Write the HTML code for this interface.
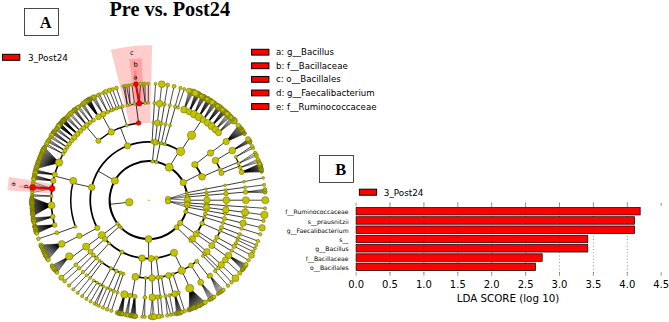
<!DOCTYPE html><html><head><meta charset="utf-8"><title>Pre vs. Post24</title><style>html,body{margin:0;padding:0;background:#fff}svg{display:block}</style></head><body><svg width="669" height="322" viewBox="0 0 669 322">
<rect width="669" height="322" fill="#fff"/>
<g fill="#ff0000">
<path d="M150.35 123.02L152.12 45.24A155 155 0 0 0 110.84 49.87L129.79 125.33A77.2 77.2 0 0 1 150.35 123.02Z" fill-opacity="0.2"/>
<path d="M143.86 103.32L141.65 58.17A142.2 142.2 0 0 0 129.3 59.32L135.44 104.1A97 97 0 0 1 143.86 103.32Z" fill-opacity="0.2"/>
<path d="M137.65 84.32L136.32 70.28A130.5 130.5 0 0 0 134.05 70.51L135.63 84.53A116.4 116.4 0 0 1 137.65 84.32Z" fill-opacity="0.2"/>
<path d="M52.93 184.19L9.04 176.85A141.5 141.5 0 0 0 7.44 190.33L51.84 193.43A97 97 0 0 1 52.93 184.19Z" fill-opacity="0.2"/>
<path d="M32.99 186.62L19.49 185.03A130 130 0 0 0 19.2 187.74L32.74 189.04A116.4 116.4 0 0 1 32.99 186.62Z" fill-opacity="0.2"/>
</g>
<g stroke="#000" fill="none" stroke-linecap="butt">
<path stroke-width="0.42" d="M226.17 141.54L244.54 133.77M226.17 141.54L244.26 133.36M226.17 141.54L243.98 132.95M226.17 141.54L243.69 132.55M226.17 141.54L243.4 132.15M226.17 141.54L243.11 131.75M226.17 141.54L242.82 131.35M226.17 141.54L242.53 130.95M226.17 141.54L242.24 130.55M226.17 141.54L241.94 130.15M226.17 141.54L241.64 129.76M226.17 141.54L241.34 129.37M226.17 141.54L241.04 128.97M226.17 141.54L240.74 128.58M226.17 141.54L240.44 128.19M226.17 141.54L240.13 127.8M226.17 141.54L239.82 127.42M226.17 141.54L239.51 127.03M226.17 141.54L239.2 126.65M226.17 141.54L238.89 126.26M226.17 141.54L238.57 125.88M226.17 141.54L238.26 125.5M232.22 150.55L250.07 142.56M232.22 150.55L249.82 142.11M232.22 150.55L249.56 141.67M232.22 150.55L249.31 141.23M232.22 150.55L249.05 140.79M232.22 150.55L248.79 140.36M232.22 150.55L248.53 139.92M232.22 150.55L248.26 139.49M232.22 150.55L248 139.05M241.7 172.09L261.83 171.97M241.7 172.09L261.73 171.57M241.7 172.09L261.63 171.18M241.7 172.09L261.53 170.78M241.7 172.09L261.43 170.39M241.7 172.09L261.32 170M241.7 172.09L261.22 169.6M241.7 172.09L261.11 169.21M241.7 172.09L261 168.82M241.7 172.09L260.89 168.42M241.7 172.09L260.78 168.03M241.7 172.09L260.67 167.64M241.7 172.09L260.55 167.25M241.7 172.09L260.44 166.86M241.7 172.09L260.32 166.47M241.7 172.09L260.2 166.08M241.7 172.09L260.08 165.69M241.7 172.09L259.96 165.3M241.7 172.09L259.84 164.91M241.7 172.09L259.71 164.53M241.7 172.09L259.59 164.14M241.7 172.09L259.46 163.75M184.08 109.65L193.45 92.46M184.08 109.65L192.69 92.15M184.08 109.65L191.94 91.85M184.08 109.65L191.18 91.55M184.08 109.65L190.42 91.25M184.08 109.65L189.66 90.96M184.08 109.65L188.9 90.68M189.24 111.85L199.57 95.22M189.24 111.85L199.17 95.03M189.24 111.85L198.77 94.84M189.24 111.85L198.37 94.65M189.24 111.85L197.97 94.46M189.24 111.85L197.57 94.27M189.24 111.85L197.16 94.08M189.24 111.85L196.76 93.9M189.24 111.85L196.35 93.72M189.24 111.85L195.95 93.54M189.24 111.85L195.54 93.36M189.24 111.85L195.13 93.18M194.11 114.25L205.36 98.23M194.11 114.25L204.82 97.94M194.11 114.25L204.28 97.64M194.11 114.25L203.75 97.35M194.11 114.25L203.21 97.06M194.11 114.25L202.67 96.78M194.11 114.25L202.12 96.5M194.11 114.25L201.58 96.22M194.11 114.25L201.04 95.94M198.83 116.93L210.96 101.56M198.83 116.93L210.61 101.34M198.83 116.93L210.27 101.13M198.83 116.93L209.92 100.91M198.83 116.93L209.58 100.7M198.83 116.93L209.23 100.48M198.83 116.93L208.88 100.27M198.83 116.93L208.53 100.06M198.83 116.93L208.18 99.86M198.83 116.93L207.83 99.65M198.83 116.93L207.48 99.44M198.83 116.93L207.13 99.24M198.83 116.93L206.77 99.03M203.26 119.77L216.2 105.07M203.26 119.77L215.7 104.72M203.26 119.77L215.2 104.37M203.26 119.77L214.7 104.02M203.26 119.77L214.2 103.68M203.26 119.77L213.69 103.34M203.26 119.77L213.18 103M203.26 119.77L212.67 102.66M203.26 119.77L212.16 102.33M207.53 122.84L221.25 108.87M207.53 122.84L220.93 108.62M207.53 122.84L220.61 108.36M207.53 122.84L220.29 108.11M207.53 122.84L219.97 107.86M207.53 122.84L219.64 107.62M207.53 122.84L219.32 107.37M207.53 122.84L218.99 107.12M207.53 122.84L218.67 106.88M207.53 122.84L218.34 106.63M207.53 122.84L218.02 106.39M207.53 122.84L217.69 106.15M207.53 122.84L217.36 105.91M211.63 126.14L226.08 112.93M211.63 126.14L225.78 112.66M211.63 126.14L225.47 112.39M211.63 126.14L225.16 112.13M211.63 126.14L224.85 111.86M211.63 126.14L224.55 111.59M211.63 126.14L224.24 111.33M211.63 126.14L223.92 111.07M211.63 126.14L223.61 110.8M211.63 126.14L223.3 110.54M211.63 126.14L222.99 110.28M211.63 126.14L222.67 110.02M211.63 126.14L222.36 109.76M215.42 129.54L230.54 117.11M215.42 129.54L229.96 116.54M215.42 129.54L229.37 115.97M215.42 129.54L228.78 115.41M215.42 129.54L228.19 114.85M215.42 129.54L227.59 114.3M215.42 129.54L226.99 113.75M218.56 132.64L234.23 120.91M218.56 132.64L233.67 120.31M218.56 132.64L233.11 119.72M218.56 132.64L232.55 119.13M218.56 132.64L231.98 118.55M218.56 132.64L231.41 117.97M218.56 132.64L230.83 117.39M98.51 116.84L90.07 99.24M98.51 116.84L89.86 99.36M98.51 116.84L89.64 99.49M98.51 116.84L89.42 99.62M98.51 116.84L89.2 99.75M98.51 116.84L88.99 99.88M98.51 116.84L88.77 100M98.51 116.84L88.55 100.13M98.51 116.84L88.34 100.26M98.51 116.84L88.12 100.39M98.51 116.84L87.91 100.52M98.51 116.84L87.69 100.66M98.51 116.84L87.48 100.79M98.51 116.84L87.26 100.92M98.51 116.84L87.05 101.05M98.51 116.84L86.83 101.19M98.51 116.84L86.62 101.32M98.51 116.84L86.41 101.45M98.51 116.84L86.19 101.59M98.51 116.84L85.98 101.72M98.51 116.84L85.77 101.86M98.51 116.84L85.55 102M86.74 125.16L75.79 109M86.74 125.16L75.38 109.32M86.74 125.16L74.98 109.65M86.74 125.16L74.57 109.99M86.74 125.16L74.17 110.32M86.74 125.16L73.77 110.65M86.74 125.16L73.36 110.99M86.74 125.16L72.96 111.33M77.36 134L64.51 119.28M77.36 134L64.35 119.44M77.36 134L64.2 119.61M77.36 134L64.04 119.77M77.36 134L63.89 119.93M77.36 134L63.73 120.1M77.36 134L63.58 120.26M77.36 134L63.42 120.43M77.36 134L63.27 120.59M77.36 134L63.11 120.76M77.36 134L62.96 120.93M77.36 134L62.8 121.09M77.36 134L62.65 121.26M77.36 134L62.5 121.43M77.36 134L62.35 121.59M77.36 134L62.19 121.76M77.36 134L62.04 121.93M77.36 134L61.89 122.1M77.36 134L61.74 122.26M74.32 137.43L60.79 123.33M74.32 137.43L60.64 123.5M74.32 137.43L60.5 123.67M74.32 137.43L60.35 123.84M74.32 137.43L60.2 124.01M74.32 137.43L60.05 124.19M74.32 137.43L59.9 124.36M74.32 137.43L59.76 124.53M74.32 137.43L59.61 124.7M74.32 137.43L59.47 124.88M74.32 137.43L59.32 125.05M74.32 137.43L59.17 125.22M74.32 137.43L59.03 125.39M74.32 137.43L58.88 125.57M74.32 137.43L58.74 125.74M74.32 137.43L58.59 125.92M74.32 137.43L58.45 126.09M74.32 137.43L58.31 126.27M74.32 137.43L58.16 126.44M69.23 144L54.49 131.19M69.23 144L54.16 131.64M69.23 144L53.84 132.09M69.23 144L53.52 132.54M69.23 144L53.2 132.99M69.23 144L52.88 133.44M69.23 144L52.56 133.9M69.23 144L52.25 134.35M58.95 162.51L44.62 147.22M58.95 162.51L44.36 147.74M58.95 162.51L44.1 148.26M58.95 162.51L43.84 148.78M58.95 162.51L43.59 149.3M58.95 162.51L43.33 149.82M58.95 162.51L43.08 150.35M58.95 162.51L42.84 150.87M58.95 162.51L42.59 151.4M58.95 162.51L42.35 151.93M58.95 162.51L42.11 152.45M58.95 162.51L41.88 152.99M58.95 162.51L41.64 153.52M58.95 162.51L41.41 154.05M58.95 162.51L41.19 154.58M58.95 162.51L40.96 155.12M58.95 162.51L40.74 155.65M58.95 162.51L40.52 156.19M58.95 162.51L40.3 156.73M58.95 162.51L40.08 157.27M58.95 162.51L39.87 157.81M58.95 162.51L39.66 158.35M58.95 162.51L39.46 158.89M58.95 162.51L39.25 159.44M58.95 162.51L39.05 159.98M58.95 162.51L38.85 160.53M58.95 162.51L38.66 161.07M58.95 162.51L38.46 161.62M58.95 162.51L38.27 162.17M58.95 162.51L38.08 162.72M58.95 162.51L37.9 163.27M58.95 162.51L37.72 163.82M58.95 162.51L37.54 164.37M58.95 162.51L37.36 164.92M58.95 162.51L37.19 165.48M58.95 162.51L37.01 166.03M58.95 162.51L36.85 166.59M58.95 162.51L36.68 167.14M58.95 162.51L36.52 167.7M58.95 162.51L36.36 168.26M58.95 162.51L36.2 168.82M54.8 174.54L35.93 169.8M54.8 174.54L35.81 170.24M54.8 174.54L35.69 170.68M54.8 174.54L35.58 171.13M54.8 174.54L35.47 171.57M54.8 174.54L35.35 172.02M54.8 174.54L35.24 172.46M54.8 174.54L35.14 172.91M54.8 174.54L35.03 173.35M53.3 180.81L34.62 175.14M53.3 180.81L34.5 175.69M53.3 180.81L34.39 176.24M53.3 180.81L34.27 176.78M53.3 180.81L34.16 177.33M53.3 180.81L34.05 177.88M53.3 180.81L33.95 178.43M53.3 180.81L33.84 178.98M53.3 180.81L33.74 179.53M52.05 188.52L33.27 182.35M52.05 188.52L32.95 184.56M52.05 188.52L32.6 187.39M52.05 188.52L32.33 190.23M52.05 188.52L32.14 192.67M51.48 205.29L31.93 197.55M51.48 205.29L31.92 197.98M51.48 205.29L31.91 198.41M51.48 205.29L31.91 198.85M51.48 205.29L31.9 199.28M51.48 205.29L31.9 199.71M51.48 205.29L31.9 200.14M51.48 205.29L31.9 200.57M51.48 205.29L31.9 201M51.48 205.29L31.91 201.43M51.48 205.29L31.91 201.86M51.48 205.29L31.92 202.29M51.48 205.29L31.93 202.72M51.48 205.29L31.94 203.16M51.48 205.29L31.95 203.59M51.48 205.29L31.96 204.02M51.48 205.29L31.98 204.45M51.48 205.29L31.99 204.88M51.48 205.29L32.01 205.31M51.48 205.29L32.03 205.74M51.48 205.29L32.05 206.17M51.48 205.29L32.08 206.6M51.48 205.29L32.1 207.03M51.48 205.29L32.13 207.46M51.48 205.29L32.15 207.89M51.48 205.29L32.18 208.32M51.48 205.29L32.21 208.75M51.48 205.29L32.25 209.18M51.48 205.29L32.28 209.61M51.48 205.29L32.32 210.04M51.48 205.29L32.35 210.47M51.48 205.29L32.39 210.9M51.48 205.29L32.43 211.33M51.48 205.29L32.47 211.76M51.48 205.29L32.52 212.19M51.48 205.29L32.56 212.62M51.48 205.29L32.61 213.04M51.48 205.29L32.66 213.47M51.48 205.29L32.71 213.9M51.48 205.29L32.76 214.33M51.48 205.29L32.81 214.76M51.48 205.29L32.87 215.18M51.48 205.29L32.92 215.61M51.48 205.29L32.98 216.04M52.77 216.75L33.21 217.65M52.77 216.75L33.3 218.21M52.77 216.75L33.39 218.78M52.77 216.75L33.48 219.34M52.77 216.75L33.58 219.9M52.77 216.75L33.67 220.46M52.77 216.75L33.77 221.03M52.77 216.75L33.88 221.59M52.77 216.75L33.98 222.15M52.77 216.75L34.09 222.71M52.77 216.75L34.2 223.27M54.58 225.04L34.71 225.66M54.58 225.04L34.81 226.1M54.58 225.04L34.91 226.54M54.58 225.04L35.01 226.98M54.58 225.04L35.12 227.42M54.58 225.04L35.23 227.86M54.58 225.04L35.33 228.3M54.58 225.04L35.44 228.74M54.58 225.04L35.56 229.18M54.58 225.04L35.67 229.62M54.58 225.04L35.78 230.05M54.58 225.04L35.9 230.49M54.58 225.04L36.02 230.93M54.58 225.04L36.14 231.36M54.58 225.04L36.26 231.8M54.58 225.04L36.38 232.24M54.58 225.04L36.51 232.67M54.58 225.04L36.64 233.11M54.58 225.04L36.76 233.54M61.72 243.9L40.78 244.86M61.72 243.9L41.02 245.43M61.72 243.9L41.26 246M61.72 243.9L41.51 246.57M61.72 243.9L41.75 247.13M61.72 243.9L42 247.7M61.72 243.9L42.26 248.26M61.72 243.9L42.51 248.83M61.72 243.9L42.77 249.39M61.72 243.9L43.04 249.95M61.72 243.9L43.3 250.51M61.72 243.9L43.57 251.07M61.72 243.9L43.84 251.62M61.72 243.9L44.11 252.18M61.72 243.9L44.39 252.73M61.72 243.9L44.67 253.28M61.72 243.9L44.95 253.83M61.72 243.9L45.24 254.38M61.72 243.9L45.53 254.93M61.72 243.9L45.82 255.47M61.72 243.9L46.11 256.02M61.72 243.9L46.41 256.56M61.72 243.9L46.71 257.1M61.72 243.9L47.01 257.64M61.72 243.9L47.32 258.18M61.72 243.9L47.63 258.71M61.72 243.9L47.94 259.25M61.72 243.9L48.26 259.78M69.23 256.4L51.85 265.46M69.23 256.4L52.24 266.03M69.23 256.4L52.63 266.6M69.23 256.4L53.02 267.16M69.23 256.4L53.42 267.73M69.23 256.4L53.82 268.29M69.23 256.4L54.22 268.85M69.23 256.4L54.63 269.4M69.23 256.4L55.04 269.96M69.23 256.4L55.46 270.51M69.23 256.4L55.87 271.06M69.23 256.4L56.29 271.6M69.23 256.4L56.72 272.15M69.23 256.4L57.14 272.69M124.41 294.39L117.61 312.71M124.41 294.39L118 312.82M124.41 294.39L118.4 312.92M124.41 294.39L118.79 313.03M124.41 294.39L119.18 313.13M124.41 294.39L119.58 313.23M124.41 294.39L119.97 313.33M124.41 294.39L120.37 313.43M124.41 294.39L120.76 313.53M124.41 294.39L121.16 313.63M124.41 294.39L121.56 313.72M124.41 294.39L121.95 313.82M124.41 294.39L122.35 313.91M124.41 294.39L122.75 314M134.73 296.46L130.34 315.46M134.73 296.46L130.78 315.53M134.73 296.46L131.21 315.6M134.73 296.46L131.65 315.66M134.73 296.46L132.08 315.72M134.73 296.46L132.51 315.79M134.73 296.46L132.95 315.85M134.73 296.46L133.38 315.9M134.73 296.46L133.82 315.96M134.73 296.46L134.25 316.01M134.73 296.46L134.69 316.07M134.73 296.46L135.12 316.12M134.73 296.46L135.56 316.17M134.73 296.46L136 316.22M174.75 293.87L176.44 313.53M174.75 293.87L176.99 313.39M174.75 293.87L177.54 313.25M174.75 293.87L178.1 313.11M174.75 293.87L178.65 312.97M174.75 293.87L179.2 312.82M174.75 293.87L179.75 312.67M174.75 293.87L180.3 312.51M174.75 293.87L180.85 312.36M174.75 293.87L181.39 312.2M174.75 293.87L181.94 312.04M189.7 288.34L189.09 309.65M189.7 288.34L189.58 309.47M189.7 288.34L190.06 309.29M189.7 288.34L190.55 309.1M189.7 288.34L191.04 308.91M189.7 288.34L191.52 308.72M189.7 288.34L192.01 308.53M189.7 288.34L192.49 308.33M189.7 288.34L192.97 308.14M189.7 288.34L193.45 307.94M189.7 288.34L193.93 307.73M189.7 288.34L194.41 307.53M189.7 288.34L194.89 307.33M189.7 288.34L195.37 307.12M189.7 288.34L195.85 306.91M189.7 288.34L196.32 306.7M189.7 288.34L196.8 306.48M189.7 288.34L197.27 306.27M189.7 288.34L197.75 306.05M189.7 288.34L198.22 305.83M189.7 288.34L198.69 305.6M189.7 288.34L199.16 305.38M189.7 288.34L199.63 305.15M189.7 288.34L200.1 304.92M189.7 288.34L200.56 304.69M189.7 288.34L201.03 304.46M189.7 288.34L201.5 304.22M189.7 288.34L201.96 303.99M189.7 288.34L202.42 303.75M189.7 288.34L202.88 303.51M189.7 288.34L203.35 303.26M189.7 288.34L203.8 303.02M189.7 288.34L204.26 302.77M189.7 288.34L204.72 302.52M189.7 288.34L205.18 302.27M200.71 282.31L209.05 300.02M200.71 282.31L209.8 299.57M200.71 282.31L210.54 299.11M200.71 282.31L211.28 298.64M200.71 282.31L212.01 298.17M200.71 282.31L212.74 297.69M200.71 282.31L213.47 297.21M200.71 282.31L214.2 296.72M210.06 275.56L217.69 294.25M210.06 275.56L218.53 293.63M210.06 275.56L219.37 293M210.06 275.56L220.2 292.36M210.06 275.56L221.02 291.71M210.06 275.56L221.84 291.06M210.06 275.56L222.65 290.4M210.06 275.56L223.46 289.73M228.55 255.56L242.29 269.78M228.55 255.56L242.64 269.3M228.55 255.56L242.99 268.82M228.55 255.56L243.34 268.34M228.55 255.56L243.68 267.86M228.55 255.56L244.02 267.38M228.55 255.56L244.36 266.89M228.55 255.56L244.7 266.41M228.55 255.56L245.04 265.92M228.55 255.56L245.37 265.43M228.55 255.56L245.7 264.93M228.55 255.56L246.03 264.44"/>
<path stroke-width="0.55" d="M238.64 163.45L256.49 155.73M238.64 163.45L255.78 154.04M238.64 163.45L255.04 152.36M240.22 167.58L258.94 162.21M240.22 167.58L258.4 160.67M240.22 167.58L257.84 159.14M103.24 114.17L95.08 96.5M103.24 114.17L93.99 97.06M103.24 114.17L92.92 97.64M103.24 114.17L91.84 98.23M93.38 120.15L83.68 103.22M93.38 120.15L82.78 103.83M93.38 120.15L81.89 104.45M93.38 120.15L81 105.07M90.07 122.53L79.43 106.21M90.07 122.53L78.37 107M90.07 122.53L77.32 107.8M83.28 128.16L71.27 112.8M83.28 128.16L70.21 113.75M83.28 128.16L69.16 114.71M80.32 130.96L67.9 115.9M80.32 130.96L67.07 116.7M80.32 130.96L66.25 117.51M80.32 130.96L65.44 118.33M71.65 140.73L57.21 127.63M71.65 140.73L56.58 128.43M71.65 140.73L55.95 129.24M71.65 140.73L55.34 130.05M67.04 147.23L51.45 135.53M67.04 147.23L50.73 136.64M67.04 147.23L50.01 137.76M64.98 150.55L49.1 139.22M64.98 150.55L48.53 140.15M64.98 150.55L47.98 141.09M64.98 150.55L47.43 142.03M130.04 295.66L125.13 314.52M130.04 295.66L126.2 314.73M130.04 295.66L127.27 314.93M130.04 295.66L128.34 315.13M152.33 297.38L150.23 316.89M152.33 297.38L152.27 316.84M152.33 297.38L154.3 316.76M168 198.84L186.79 192.78M168 198.84L187.16 195.06M168 198.84L187.36 196.94M168 198.84L187.5 200.2M245.51 192.06L264.99 191.65M245.51 192.06L264.78 189.22M245.51 192.06L265.07 192.87M245.51 192.06L264.89 190.43M168.01 201.39L187.41 202.91M168.01 201.39L187.19 205.08M168.01 201.39L186.89 207.09"/>
<path stroke-width="0.7" d="M235.71 156.96L252.95 147.95M235.71 156.96L252.02 146.13M159.61 103.58L161.81 84.25M164.48 104.26L167.66 85.07M169.81 105.29L174.06 86.31M175.08 106.62L180.38 87.91M178.01 107.5L184.27 89.09M154.37 103.12L155.52 83.71M127.39 105.29L123.34 86.27M127.39 105.29L124.93 85.92M130.21 104.7L126.53 85.61M130.21 104.7L128.94 85.17M134.56 103.97L131.96 84.69M139.28 103.4L135.9 84.19M139.28 103.4L140.46 83.78M145.21 103.01L144.93 83.56M145.21 103.01L142.7 83.65M148.26 102.95L148.4 83.5M122.61 106.49L116.43 88.02M119.19 107.5L112.54 89.21M116.62 108.36L109.45 90.26M113.43 109.53L105.64 91.7M111.23 110.42L103 92.78M107.65 111.99L99.65 94.26M107.65 111.99L97.81 95.13M63.14 153.8L46.48 143.71M63.14 153.8L45.61 145.32M51.44 196.13L32.03 194.7M51.44 196.13L31.97 196.13M56.93 232.66L38.46 238.77M75.88 264.77L61.33 277.68M79.12 268.24L64.65 281.27M83.02 272.01L69.01 285.55M86.61 275.13L73.28 289.33M90.07 277.87L77.72 292.91M93.8 280.54L82.17 296.14M97.07 282.67L86.41 298.95M100.27 284.59L90.6 301.47M103.54 286.38L94.53 303.62M103.54 286.38L96.35 304.55M106.89 288.05L98.91 305.79M110.29 289.59L103 307.62M113.75 290.99L107.16 309.29M117.58 292.37L111.38 310.8M144.87 297.38L142.29 316.73M144.87 297.38L144.73 316.84M157.58 297.03L158.97 316.44M160.62 296.7L162.42 316.08M165.49 295.97L167.46 315.37M165.49 295.97L170.87 314.76M169.48 295.18L173.46 314.22M178.65 292.69L184.66 311.19M221.21 264.89L235.46 278.14M218.32 268L231.55 282.29M215.17 271.09L228.04 285.69M225.34 259.94L239.8 273.01M243.08 223.23L261.98 227.84M241.6 228.63L260.2 234.32M239.69 234.26L257.91 241.07M238.25 237.89L256.34 245.05M237.3 240.07L254.88 248.41M235.86 243.14L253.31 251.72M234.23 246.31L251.45 255.35M231.78 250.58L248.63 260.3M244.06 181.64L263.16 177.93M245 187.34L264.27 184.77M245.85 200.2L265.3 200.2M245.61 206.98L265.02 208.34M245.08 212.39L264.38 214.83M244.31 217.42L263.46 220.87"/>
<path stroke-width="0.78" d="M129.26 202.23L109.91 204.27M183.26 182.54L200.59 173.71M194.83 164.6L210.24 152.73M210.49 153.05L225.96 141.27M202.07 176.84L219.89 169.05M215.5 160.48L232.22 150.55M220.22 169.8L238.12 162.2M221.47 172.95L239.69 166.14M169.21 167.21L179.52 150.72M180.64 151.43L191.31 135.17M191.54 135.32L202.28 119.1M156.36 162.08L160.23 143.02M155.21 142.23L157.41 122.9M157.41 122.9L159.61 103.58M158.13 142.63L161.31 123.44M161.31 123.44L164.48 104.26M161.33 143.26L165.57 124.27M165.57 124.27L169.81 105.29M164.78 144.14L170.18 125.45M170.04 125.41L175.41 106.72M152.46 161.49L154.4 142.14M152.06 141.95L153.21 122.54M153.21 122.54L154.37 103.12M114.91 180.75L98.07 171.03M127.5 145.8L120.47 127.67M138.58 123.05L136.07 103.76M126.76 125.53L121.31 106.86M111.24 131.96L101.9 114.9M98.38 140.78L85.83 125.92M91.68 187.37L72.7 183.1M73.24 180.85L54.41 176.01M75.45 226.68L57.16 233.3M97.27 227.95L80.16 237.2M79.4 235.76L62.1 244.65M117.53 223.61L102 235.32M101.88 235.15L86.3 246.8M86.14 246.59L70.53 258.18M119.69 226.23L105.24 239.24M104.97 238.94L90.42 251.85M90.42 251.85L75.88 264.77M148.6 239.1L148.6 258.55M109.18 243.22L96.04 257.56M93.4 255.02L79.59 268.73M96.54 258.02L83.53 272.47M121.84 252.05L112.92 269.33M99.64 260.66L87.4 275.78M102 262.5L90.34 278.07M111 268.31L101.6 285.34M116.34 270.99L108.27 288.69M120.59 272.78L113.59 290.93M123.4 273.81L117.1 292.21M141.99 258.17L139.79 277.5M135.36 276.86L132.05 296.03M145.61 277.94L144.87 297.38M151.15 258.49L151.99 277.93M151.99 277.93L152.84 297.36M156.22 258.05L158.75 277.33M158.08 277.42L160.45 296.73M161.44 276.93L164.65 296.12M174 252.73L182.46 270.24M168.47 275.42L173.44 294.22M172.9 274.11L178.97 292.58M181.73 270.6L190.01 288.19M190.97 265.45L201.57 281.76M196.82 261.26L208.87 276.52M176.58 227.22L190.57 240.73M192.23 238.94L206.78 251.85M206.87 251.75L221.44 264.64M190.43 240.88L204.38 254.44M204.56 254.24L218.56 267.76M202.84 255.98L216.4 269.92M180.19 222.9L195.99 234.25M196.22 233.92L212.1 245.16M211.78 245.6L227.58 256.95M185.74 211.77L204.31 217.55M205.29 214.02L224.19 218.63M224.19 218.63L243.08 223.23M204.4 217.26L223 222.95M223 222.95L241.6 228.63M202.15 223.37L220 231.1M221.47 227.45L239.69 234.26M220.11 230.85L237.99 238.51M216.97 237.32L234.06 246.6M197.81 231.55L214.22 242M214.94 240.85L231.52 251.01M186.79 192.78L205.88 189.07M205.88 189.07L224.97 185.36M224.97 185.36L244.06 181.64M187.16 195.06L206.44 192.48M206.44 192.48L225.72 189.91M225.72 189.91L245 187.34M187.36 196.94L206.75 195.32M206.75 195.32L226.13 193.69M226.13 193.69L245.51 192.06M187.5 200.2L206.95 200.2M206.95 200.2L226.4 200.2M226.4 200.2L245.85 200.2M187.41 202.91L206.81 204.27M206.81 204.27L226.21 205.63M226.21 205.63L245.61 206.98M187.19 205.08L206.49 207.51M206.49 207.51L225.79 209.95M225.79 209.95L245.08 212.39M186.89 207.09L206.03 210.53M206.03 210.53L225.17 213.98M225.17 213.98L244.31 217.42"/>
<path stroke-width="1.15" d="M226.17 141.54A97.25 97.25 0 0 0 225.96 141.27M240.22 167.58A97.25 97.25 0 0 0 235.71 156.96M241.7 172.09A97.25 97.25 0 0 0 239.69 166.14M218.56 132.64A97.25 97.25 0 0 0 184.08 109.65M178.01 107.5A97.25 97.25 0 0 0 175.08 106.62M148.26 102.95A97.25 97.25 0 0 0 127.39 105.29M122.61 106.49A97.25 97.25 0 0 0 121.31 106.86M119.19 107.5A97.25 97.25 0 0 0 98.51 116.84M93.38 120.15A97.25 97.25 0 0 0 63.14 153.8M56.93 232.66A97.25 97.25 0 0 0 57.16 233.3M61.72 243.9A97.25 97.25 0 0 0 62.1 244.65M69.23 256.4A97.25 97.25 0 0 0 70.53 258.18M79.12 268.24A97.25 97.25 0 0 0 79.59 268.73M83.02 272.01A97.25 97.25 0 0 0 83.53 272.47M86.61 275.13A97.25 97.25 0 0 0 87.4 275.78M90.07 277.87A97.25 97.25 0 0 0 90.34 278.07M93.8 280.54A97.25 97.25 0 0 0 103.54 286.38M106.89 288.05A97.25 97.25 0 0 0 108.27 288.69M110.29 289.59A97.25 97.25 0 0 0 113.75 290.99M117.1 292.21A97.25 97.25 0 0 0 117.58 292.37M124.41 294.39A97.25 97.25 0 0 0 134.73 296.46M152.33 297.38A97.25 97.25 0 0 0 152.84 297.36M157.58 297.03A97.25 97.25 0 0 0 160.62 296.7M164.65 296.12A97.25 97.25 0 0 0 165.49 295.97M169.48 295.18A97.25 97.25 0 0 0 174.75 293.87M178.65 292.69A97.25 97.25 0 0 0 178.97 292.58M189.7 288.34A97.25 97.25 0 0 0 190.01 288.19M200.71 282.31A97.25 97.25 0 0 0 201.57 281.76M208.47 276.83A97.25 97.25 0 0 0 210.06 275.56M221.21 264.89A97.25 97.25 0 0 0 221.44 264.64M218.32 268A97.25 97.25 0 0 0 218.56 267.76M215.17 271.09A97.25 97.25 0 0 0 216.4 269.92M225.34 259.94A97.25 97.25 0 0 0 228.55 255.56M237.3 240.07A97.25 97.25 0 0 0 238.25 237.89M234.06 246.6A97.25 97.25 0 0 0 235.86 243.14M231.52 251.01A97.25 97.25 0 0 0 231.78 250.58"/>
<path stroke-width="1.5" d="M210.49 153.05A77.8 77.8 0 0 0 210.24 152.73M221.47 172.95A77.8 77.8 0 0 0 215.5 160.48M191.54 135.32A77.8 77.8 0 0 0 191.31 135.17M170.18 125.45A77.8 77.8 0 0 0 170.04 125.41M138.58 123.05A77.8 77.8 0 0 0 98.38 140.78M73.24 180.85A77.8 77.8 0 0 0 75.45 226.68M79.4 235.76A77.8 77.8 0 0 0 80.16 237.2M86.14 246.59A77.8 77.8 0 0 0 86.3 246.8M93.4 255.02A77.8 77.8 0 0 0 96.54 258.02M99.64 260.66A77.8 77.8 0 0 0 123.4 273.81M135.36 276.86A77.8 77.8 0 0 0 145.61 277.94M158.08 277.42A77.8 77.8 0 0 0 161.44 276.93M168.47 275.42A77.8 77.8 0 0 0 196.82 261.26M206.78 251.85A77.8 77.8 0 0 0 206.87 251.75M202.84 255.98A77.8 77.8 0 0 0 204.56 254.24M211.78 245.6A77.8 77.8 0 0 0 212.1 245.16M216.97 237.32A77.8 77.8 0 0 0 221.47 227.45M214.22 242A77.8 77.8 0 0 0 214.94 240.85M145.61 277.94A77.8 77.8 0 0 0 168.47 275.42M66.13 148.67A97.25 97.25 0 0 0 58.95 162.51"/>
<path stroke-width="1.6" d="M58.95 162.51A97.25 97.25 0 0 0 54.58 225.04"/>
<path stroke-width="1.75" d="M202.07 176.84A58.35 58.35 0 0 0 194.83 164.6M180.64 151.43A58.35 58.35 0 0 0 179.52 150.72M164.78 144.14A58.35 58.35 0 0 0 155.21 142.23M154.4 142.14A58.35 58.35 0 0 0 152.06 141.95M127.5 145.8A58.35 58.35 0 0 0 97.27 227.95M101.88 235.15A58.35 58.35 0 0 0 102 235.32M104.97 238.94A58.35 58.35 0 0 0 105.24 239.24M109.18 243.22A58.35 58.35 0 0 0 174 252.73M190.43 240.88A58.35 58.35 0 0 0 192.23 238.94M195.99 234.25A58.35 58.35 0 0 0 196.22 233.92M197.81 231.55A58.35 58.35 0 0 0 205.29 214.02M180.64 151.43A58.35 58.35 0 0 0 127.5 145.8M101.88 235.15A58.35 58.35 0 0 0 109.18 243.22"/>
<path stroke-width="1.95" d="M176.58 227.22A38.9 38.9 0 1 0 148.6 239.1M109.7 200.2A38.9 38.9 0 0 0 176.58 227.22"/>
</g>
<g fill="#c3c300" stroke="#5a5a00" stroke-width="0.45">
<circle cx="129.26" cy="202.23" r="3.7"/>
<circle cx="183.26" cy="182.54" r="3.2"/>
<circle cx="194.83" cy="164.6" r="3.2"/>
<circle cx="210.49" cy="153.05" r="3.2"/>
<circle cx="226.17" cy="141.54" r="3.2"/>
<circle cx="244.54" cy="133.77" r="1.69"/>
<circle cx="244.26" cy="133.36" r="2.08"/>
<circle cx="243.98" cy="132.95" r="1.94"/>
<circle cx="243.69" cy="132.55" r="1.37"/>
<circle cx="243.4" cy="132.15" r="1.34"/>
<circle cx="243.11" cy="131.75" r="1.38"/>
<circle cx="242.82" cy="131.35" r="1.81"/>
<circle cx="242.53" cy="130.95" r="1.45"/>
<circle cx="242.24" cy="130.55" r="2.05"/>
<circle cx="241.94" cy="130.15" r="1.99"/>
<circle cx="241.64" cy="129.76" r="2.47"/>
<circle cx="241.34" cy="129.37" r="2.33"/>
<circle cx="241.04" cy="128.97" r="1.47"/>
<circle cx="240.74" cy="128.58" r="1.67"/>
<circle cx="240.44" cy="128.19" r="1.52"/>
<circle cx="240.13" cy="127.8" r="2.07"/>
<circle cx="239.82" cy="127.42" r="1.96"/>
<circle cx="239.51" cy="127.03" r="1.37"/>
<circle cx="239.2" cy="126.65" r="2.12"/>
<circle cx="238.89" cy="126.26" r="1.68"/>
<circle cx="238.57" cy="125.88" r="1.84"/>
<circle cx="238.26" cy="125.5" r="2.25"/>
<circle cx="202.07" cy="176.84" r="3.4"/>
<circle cx="215.5" cy="160.48" r="3.3"/>
<circle cx="232.22" cy="150.55" r="3.4"/>
<circle cx="250.07" cy="142.56" r="1.62"/>
<circle cx="249.82" cy="142.11" r="1.98"/>
<circle cx="249.56" cy="141.67" r="2.25"/>
<circle cx="249.31" cy="141.23" r="2.57"/>
<circle cx="249.05" cy="140.79" r="1.84"/>
<circle cx="248.79" cy="140.36" r="1.5"/>
<circle cx="248.53" cy="139.92" r="1.35"/>
<circle cx="248.26" cy="139.49" r="2.29"/>
<circle cx="248" cy="139.05" r="2.44"/>
<circle cx="220.22" cy="169.8" r="2"/>
<circle cx="235.71" cy="156.96" r="1.6"/>
<circle cx="252.95" cy="147.95" r="1.82"/>
<circle cx="252.02" cy="146.13" r="1.75"/>
<circle cx="238.64" cy="163.45" r="1.8"/>
<circle cx="256.49" cy="155.73" r="2.07"/>
<circle cx="255.78" cy="154.04" r="1.78"/>
<circle cx="255.04" cy="152.36" r="1.45"/>
<circle cx="240.22" cy="167.58" r="1.8"/>
<circle cx="258.94" cy="162.21" r="1.92"/>
<circle cx="258.4" cy="160.67" r="2.06"/>
<circle cx="257.84" cy="159.14" r="1.71"/>
<circle cx="221.47" cy="172.95" r="2.6"/>
<circle cx="241.7" cy="172.09" r="2.6"/>
<circle cx="261.83" cy="171.97" r="1.33"/>
<circle cx="261.73" cy="171.57" r="1.5"/>
<circle cx="261.63" cy="171.18" r="1.37"/>
<circle cx="261.53" cy="170.78" r="1.46"/>
<circle cx="261.43" cy="170.39" r="1.77"/>
<circle cx="261.32" cy="170" r="1.4"/>
<circle cx="261.22" cy="169.6" r="1.96"/>
<circle cx="261.11" cy="169.21" r="2.28"/>
<circle cx="261" cy="168.82" r="1.63"/>
<circle cx="260.89" cy="168.42" r="1.73"/>
<circle cx="260.78" cy="168.03" r="2.45"/>
<circle cx="260.67" cy="167.64" r="1.51"/>
<circle cx="260.55" cy="167.25" r="1.58"/>
<circle cx="260.44" cy="166.86" r="2.01"/>
<circle cx="260.32" cy="166.47" r="1.3"/>
<circle cx="260.2" cy="166.08" r="1.74"/>
<circle cx="260.08" cy="165.69" r="2.44"/>
<circle cx="259.96" cy="165.3" r="1.92"/>
<circle cx="259.84" cy="164.91" r="2.11"/>
<circle cx="259.71" cy="164.53" r="2.38"/>
<circle cx="259.59" cy="164.14" r="2.35"/>
<circle cx="259.46" cy="163.75" r="1.77"/>
<circle cx="169.21" cy="167.21" r="4"/>
<circle cx="180.64" cy="151.43" r="4.2"/>
<circle cx="191.54" cy="135.32" r="4.2"/>
<circle cx="184.08" cy="109.65" r="3.43"/>
<circle cx="193.45" cy="92.46" r="3.29"/>
<circle cx="192.69" cy="92.15" r="2.94"/>
<circle cx="191.94" cy="91.85" r="1.52"/>
<circle cx="191.18" cy="91.55" r="2.04"/>
<circle cx="190.42" cy="91.25" r="2.59"/>
<circle cx="189.66" cy="90.96" r="1.85"/>
<circle cx="188.9" cy="90.68" r="2.55"/>
<circle cx="189.24" cy="111.85" r="3.11"/>
<circle cx="199.57" cy="95.22" r="2.42"/>
<circle cx="199.17" cy="95.03" r="1.96"/>
<circle cx="198.77" cy="94.84" r="2.71"/>
<circle cx="198.37" cy="94.65" r="1.72"/>
<circle cx="197.97" cy="94.46" r="3.26"/>
<circle cx="197.57" cy="94.27" r="2.89"/>
<circle cx="197.16" cy="94.08" r="1.43"/>
<circle cx="196.76" cy="93.9" r="2.57"/>
<circle cx="196.35" cy="93.72" r="2.73"/>
<circle cx="195.95" cy="93.54" r="1.6"/>
<circle cx="195.54" cy="93.36" r="2.04"/>
<circle cx="195.13" cy="93.18" r="3.13"/>
<circle cx="194.11" cy="114.25" r="3.73"/>
<circle cx="205.36" cy="98.23" r="2.38"/>
<circle cx="204.82" cy="97.94" r="1.67"/>
<circle cx="204.28" cy="97.64" r="2.43"/>
<circle cx="203.75" cy="97.35" r="3.02"/>
<circle cx="203.21" cy="97.06" r="2.55"/>
<circle cx="202.67" cy="96.78" r="2.52"/>
<circle cx="202.12" cy="96.5" r="2.55"/>
<circle cx="201.58" cy="96.22" r="2.58"/>
<circle cx="201.04" cy="95.94" r="1.65"/>
<circle cx="198.83" cy="116.93" r="3.76"/>
<circle cx="210.96" cy="101.56" r="1.98"/>
<circle cx="210.61" cy="101.34" r="2.99"/>
<circle cx="210.27" cy="101.13" r="2.49"/>
<circle cx="209.92" cy="100.91" r="2.3"/>
<circle cx="209.58" cy="100.7" r="1.61"/>
<circle cx="209.23" cy="100.48" r="1.8"/>
<circle cx="208.88" cy="100.27" r="2.57"/>
<circle cx="208.53" cy="100.06" r="1.88"/>
<circle cx="208.18" cy="99.86" r="2.51"/>
<circle cx="207.83" cy="99.65" r="1.58"/>
<circle cx="207.48" cy="99.44" r="3.14"/>
<circle cx="207.13" cy="99.24" r="2.58"/>
<circle cx="206.77" cy="99.03" r="1.82"/>
<circle cx="203.26" cy="119.77" r="3.02"/>
<circle cx="216.2" cy="105.07" r="2.36"/>
<circle cx="215.7" cy="104.72" r="1.52"/>
<circle cx="215.2" cy="104.37" r="1.57"/>
<circle cx="214.7" cy="104.02" r="1.63"/>
<circle cx="214.2" cy="103.68" r="2.85"/>
<circle cx="213.69" cy="103.34" r="2.32"/>
<circle cx="213.18" cy="103" r="2.05"/>
<circle cx="212.67" cy="102.66" r="1.47"/>
<circle cx="212.16" cy="102.33" r="2.48"/>
<circle cx="207.53" cy="122.84" r="3.38"/>
<circle cx="221.25" cy="108.87" r="2.5"/>
<circle cx="220.93" cy="108.62" r="2.04"/>
<circle cx="220.61" cy="108.36" r="1.42"/>
<circle cx="220.29" cy="108.11" r="3.12"/>
<circle cx="219.97" cy="107.86" r="1.61"/>
<circle cx="219.64" cy="107.62" r="2.27"/>
<circle cx="219.32" cy="107.37" r="1.79"/>
<circle cx="218.99" cy="107.12" r="2.07"/>
<circle cx="218.67" cy="106.88" r="1.53"/>
<circle cx="218.34" cy="106.63" r="3.1"/>
<circle cx="218.02" cy="106.39" r="2.01"/>
<circle cx="217.69" cy="106.15" r="2.31"/>
<circle cx="217.36" cy="105.91" r="1.93"/>
<circle cx="211.63" cy="126.14" r="3.55"/>
<circle cx="226.08" cy="112.93" r="2.86"/>
<circle cx="225.78" cy="112.66" r="2.37"/>
<circle cx="225.47" cy="112.39" r="1.7"/>
<circle cx="225.16" cy="112.13" r="2.45"/>
<circle cx="224.85" cy="111.86" r="2.51"/>
<circle cx="224.55" cy="111.59" r="1.64"/>
<circle cx="224.24" cy="111.33" r="1.9"/>
<circle cx="223.92" cy="111.07" r="1.78"/>
<circle cx="223.61" cy="110.8" r="2.67"/>
<circle cx="223.3" cy="110.54" r="1.55"/>
<circle cx="222.99" cy="110.28" r="2.53"/>
<circle cx="222.67" cy="110.02" r="2.52"/>
<circle cx="222.36" cy="109.76" r="1.96"/>
<circle cx="215.42" cy="129.54" r="3.36"/>
<circle cx="230.54" cy="117.11" r="1.98"/>
<circle cx="229.96" cy="116.54" r="2.79"/>
<circle cx="229.37" cy="115.97" r="2.02"/>
<circle cx="228.78" cy="115.41" r="1.63"/>
<circle cx="228.19" cy="114.85" r="2.9"/>
<circle cx="227.59" cy="114.3" r="2.7"/>
<circle cx="226.99" cy="113.75" r="2.15"/>
<circle cx="218.56" cy="132.64" r="3.1"/>
<circle cx="234.23" cy="120.91" r="3.19"/>
<circle cx="233.67" cy="120.31" r="3.22"/>
<circle cx="233.11" cy="119.72" r="1.62"/>
<circle cx="232.55" cy="119.13" r="2.38"/>
<circle cx="231.98" cy="118.55" r="2.21"/>
<circle cx="231.41" cy="117.97" r="1.89"/>
<circle cx="230.83" cy="117.39" r="2.02"/>
<circle cx="156.36" cy="162.08" r="1.7"/>
<circle cx="155.21" cy="142.23" r="3"/>
<circle cx="157.41" cy="122.9" r="3"/>
<circle cx="159.61" cy="103.58" r="3.3"/>
<circle cx="161.81" cy="84.25" r="3.4"/>
<circle cx="158.13" cy="142.63" r="1.5"/>
<circle cx="161.31" cy="123.44" r="1.8"/>
<circle cx="164.48" cy="104.26" r="1.8"/>
<circle cx="167.66" cy="85.07" r="2"/>
<circle cx="161.33" cy="143.26" r="1.6"/>
<circle cx="165.57" cy="124.27" r="1.6"/>
<circle cx="169.81" cy="105.29" r="1.6"/>
<circle cx="174.06" cy="86.31" r="2"/>
<circle cx="164.78" cy="144.14" r="1.5"/>
<circle cx="170.04" cy="125.41" r="1.5"/>
<circle cx="175.08" cy="106.62" r="1.7"/>
<circle cx="180.38" cy="87.91" r="1.7"/>
<circle cx="178.01" cy="107.5" r="1.6"/>
<circle cx="184.27" cy="89.09" r="1.6"/>
<circle cx="152.46" cy="161.49" r="1.7"/>
<circle cx="152.06" cy="141.95" r="1.5"/>
<circle cx="153.21" cy="122.54" r="1.4"/>
<circle cx="154.37" cy="103.12" r="1.6"/>
<circle cx="155.52" cy="83.71" r="1.5"/>
<circle cx="114.91" cy="180.75" r="3.6"/>
<circle cx="127.5" cy="145.8" r="3.1"/>
<circle cx="127.39" cy="105.29" r="1.5"/>
<circle cx="123.34" cy="86.27" r="1.6"/>
<circle cx="124.93" cy="85.92" r="1.3"/>
<circle cx="130.21" cy="104.7" r="1.4"/>
<circle cx="126.53" cy="85.61" r="1.5"/>
<circle cx="128.94" cy="85.17" r="1.3"/>
<circle cx="134.56" cy="103.97" r="1.5"/>
<circle cx="131.96" cy="84.69" r="1.6"/>
<circle cx="140.46" cy="83.78" r="1.7"/>
<circle cx="145.21" cy="103.01" r="1.5"/>
<circle cx="144.93" cy="83.56" r="1.6"/>
<circle cx="142.7" cy="83.65" r="1.3"/>
<circle cx="148.26" cy="102.95" r="1.4"/>
<circle cx="148.4" cy="83.5" r="1.5"/>
<circle cx="126.76" cy="125.53" r="1.6"/>
<circle cx="122.61" cy="106.49" r="1.8"/>
<circle cx="116.43" cy="88.02" r="1.9"/>
<circle cx="111.24" cy="131.96" r="3.2"/>
<circle cx="119.19" cy="107.5" r="1.6"/>
<circle cx="112.54" cy="89.21" r="1.73"/>
<circle cx="116.62" cy="108.36" r="1.6"/>
<circle cx="109.45" cy="90.26" r="2.2"/>
<circle cx="113.43" cy="109.53" r="1.7"/>
<circle cx="105.64" cy="91.7" r="2.3"/>
<circle cx="111.23" cy="110.42" r="1.6"/>
<circle cx="103" cy="92.78" r="1.42"/>
<circle cx="107.65" cy="111.99" r="2"/>
<circle cx="99.65" cy="94.26" r="1.66"/>
<circle cx="97.81" cy="95.13" r="1.62"/>
<circle cx="103.24" cy="114.17" r="2.8"/>
<circle cx="95.08" cy="96.5" r="1.52"/>
<circle cx="93.99" cy="97.06" r="2.39"/>
<circle cx="92.92" cy="97.64" r="2.32"/>
<circle cx="91.84" cy="98.23" r="1.44"/>
<circle cx="98.51" cy="116.84" r="3"/>
<circle cx="90.07" cy="99.24" r="2.43"/>
<circle cx="89.86" cy="99.36" r="1.69"/>
<circle cx="89.64" cy="99.49" r="2.43"/>
<circle cx="89.42" cy="99.62" r="1.98"/>
<circle cx="89.2" cy="99.75" r="1.89"/>
<circle cx="88.99" cy="99.88" r="1.7"/>
<circle cx="88.77" cy="100" r="2.49"/>
<circle cx="88.55" cy="100.13" r="1.42"/>
<circle cx="88.34" cy="100.26" r="2.48"/>
<circle cx="88.12" cy="100.39" r="1.67"/>
<circle cx="87.91" cy="100.52" r="2.12"/>
<circle cx="87.69" cy="100.66" r="2.12"/>
<circle cx="87.48" cy="100.79" r="2.38"/>
<circle cx="87.26" cy="100.92" r="1.74"/>
<circle cx="87.05" cy="101.05" r="1.65"/>
<circle cx="86.83" cy="101.19" r="2.37"/>
<circle cx="86.62" cy="101.32" r="1.55"/>
<circle cx="86.41" cy="101.45" r="2.48"/>
<circle cx="86.19" cy="101.59" r="1.42"/>
<circle cx="85.98" cy="101.72" r="2.37"/>
<circle cx="85.77" cy="101.86" r="1.46"/>
<circle cx="85.55" cy="102" r="1.82"/>
<circle cx="98.38" cy="140.78" r="2.6"/>
<circle cx="93.38" cy="120.15" r="2"/>
<circle cx="83.68" cy="103.22" r="2.46"/>
<circle cx="82.78" cy="103.83" r="2.1"/>
<circle cx="81.89" cy="104.45" r="1.44"/>
<circle cx="81" cy="105.07" r="1.2"/>
<circle cx="90.07" cy="122.53" r="2.1"/>
<circle cx="79.43" cy="106.21" r="1.63"/>
<circle cx="78.37" cy="107" r="1.62"/>
<circle cx="77.32" cy="107.8" r="2.35"/>
<circle cx="86.74" cy="125.16" r="2.5"/>
<circle cx="75.79" cy="109" r="1.52"/>
<circle cx="75.38" cy="109.32" r="1.4"/>
<circle cx="74.98" cy="109.65" r="2.09"/>
<circle cx="74.57" cy="109.99" r="2.23"/>
<circle cx="74.17" cy="110.32" r="2.28"/>
<circle cx="73.77" cy="110.65" r="2"/>
<circle cx="73.36" cy="110.99" r="1.66"/>
<circle cx="72.96" cy="111.33" r="1.4"/>
<circle cx="83.28" cy="128.16" r="2.4"/>
<circle cx="71.27" cy="112.8" r="2.31"/>
<circle cx="70.21" cy="113.75" r="2.36"/>
<circle cx="69.16" cy="114.71" r="1.98"/>
<circle cx="80.32" cy="130.96" r="2.4"/>
<circle cx="67.9" cy="115.9" r="2.14"/>
<circle cx="67.07" cy="116.7" r="1.57"/>
<circle cx="66.25" cy="117.51" r="1.39"/>
<circle cx="65.44" cy="118.33" r="2.13"/>
<circle cx="77.36" cy="134" r="2.6"/>
<circle cx="64.51" cy="119.28" r="1.82"/>
<circle cx="64.35" cy="119.44" r="1.91"/>
<circle cx="64.2" cy="119.61" r="2.2"/>
<circle cx="64.04" cy="119.77" r="2.28"/>
<circle cx="63.89" cy="119.93" r="2.12"/>
<circle cx="63.73" cy="120.1" r="2.15"/>
<circle cx="63.58" cy="120.26" r="2.07"/>
<circle cx="63.42" cy="120.43" r="1.35"/>
<circle cx="63.27" cy="120.59" r="2.45"/>
<circle cx="63.11" cy="120.76" r="1.84"/>
<circle cx="62.96" cy="120.93" r="1.32"/>
<circle cx="62.8" cy="121.09" r="1.59"/>
<circle cx="62.65" cy="121.26" r="1.85"/>
<circle cx="62.5" cy="121.43" r="2.42"/>
<circle cx="62.35" cy="121.59" r="1.41"/>
<circle cx="62.19" cy="121.76" r="2.19"/>
<circle cx="62.04" cy="121.93" r="2.27"/>
<circle cx="61.89" cy="122.1" r="1.58"/>
<circle cx="61.74" cy="122.26" r="1.58"/>
<circle cx="74.32" cy="137.43" r="2.8"/>
<circle cx="60.79" cy="123.33" r="1.85"/>
<circle cx="60.64" cy="123.5" r="1.39"/>
<circle cx="60.5" cy="123.67" r="1.64"/>
<circle cx="60.35" cy="123.84" r="2.06"/>
<circle cx="60.2" cy="124.01" r="2.02"/>
<circle cx="60.05" cy="124.19" r="2.08"/>
<circle cx="59.9" cy="124.36" r="2.05"/>
<circle cx="59.76" cy="124.53" r="1.88"/>
<circle cx="59.61" cy="124.7" r="2.47"/>
<circle cx="59.47" cy="124.88" r="1.56"/>
<circle cx="59.32" cy="125.05" r="2.15"/>
<circle cx="59.17" cy="125.22" r="1.86"/>
<circle cx="59.03" cy="125.39" r="2.49"/>
<circle cx="58.88" cy="125.57" r="1.67"/>
<circle cx="58.74" cy="125.74" r="1.87"/>
<circle cx="58.59" cy="125.92" r="1.39"/>
<circle cx="58.45" cy="126.09" r="2.49"/>
<circle cx="58.31" cy="126.27" r="1.76"/>
<circle cx="58.16" cy="126.44" r="2.42"/>
<circle cx="71.65" cy="140.73" r="2.2"/>
<circle cx="57.21" cy="127.63" r="1.32"/>
<circle cx="56.58" cy="128.43" r="1.54"/>
<circle cx="55.95" cy="129.24" r="1.98"/>
<circle cx="55.34" cy="130.05" r="1.56"/>
<circle cx="69.23" cy="144" r="2.2"/>
<circle cx="54.49" cy="131.19" r="1.74"/>
<circle cx="54.16" cy="131.64" r="2.35"/>
<circle cx="53.84" cy="132.09" r="1.49"/>
<circle cx="53.52" cy="132.54" r="2.12"/>
<circle cx="53.2" cy="132.99" r="2.17"/>
<circle cx="52.88" cy="133.44" r="1.75"/>
<circle cx="52.56" cy="133.9" r="1.7"/>
<circle cx="52.25" cy="134.35" r="1.71"/>
<circle cx="67.04" cy="147.23" r="2"/>
<circle cx="51.45" cy="135.53" r="2.42"/>
<circle cx="50.73" cy="136.64" r="1.22"/>
<circle cx="50.01" cy="137.76" r="1.53"/>
<circle cx="64.98" cy="150.55" r="2.2"/>
<circle cx="49.1" cy="139.22" r="1.71"/>
<circle cx="48.53" cy="140.15" r="1.3"/>
<circle cx="47.98" cy="141.09" r="2.18"/>
<circle cx="47.43" cy="142.03" r="1.56"/>
<circle cx="63.14" cy="153.8" r="1.8"/>
<circle cx="46.48" cy="143.71" r="2.06"/>
<circle cx="45.61" cy="145.32" r="1.39"/>
<circle cx="91.68" cy="187.37" r="3.3"/>
<circle cx="73.24" cy="180.85" r="3.5"/>
<circle cx="58.95" cy="162.51" r="3.7"/>
<circle cx="44.62" cy="147.22" r="1.82"/>
<circle cx="44.36" cy="147.74" r="2.23"/>
<circle cx="44.1" cy="148.26" r="1.81"/>
<circle cx="43.84" cy="148.78" r="2.21"/>
<circle cx="43.59" cy="149.3" r="2.35"/>
<circle cx="43.33" cy="149.82" r="1.54"/>
<circle cx="43.08" cy="150.35" r="2.42"/>
<circle cx="42.84" cy="150.87" r="2.04"/>
<circle cx="42.59" cy="151.4" r="2.34"/>
<circle cx="42.35" cy="151.93" r="2.39"/>
<circle cx="42.11" cy="152.45" r="1.5"/>
<circle cx="41.88" cy="152.99" r="1.64"/>
<circle cx="41.64" cy="153.52" r="2.19"/>
<circle cx="41.41" cy="154.05" r="1.79"/>
<circle cx="41.19" cy="154.58" r="1.88"/>
<circle cx="40.96" cy="155.12" r="1.44"/>
<circle cx="40.74" cy="155.65" r="1.39"/>
<circle cx="40.52" cy="156.19" r="2.27"/>
<circle cx="40.3" cy="156.73" r="1.84"/>
<circle cx="40.08" cy="157.27" r="2.21"/>
<circle cx="39.87" cy="157.81" r="1.96"/>
<circle cx="39.66" cy="158.35" r="1.51"/>
<circle cx="39.46" cy="158.89" r="1.68"/>
<circle cx="39.25" cy="159.44" r="2.27"/>
<circle cx="39.05" cy="159.98" r="1.32"/>
<circle cx="38.85" cy="160.53" r="1.76"/>
<circle cx="38.66" cy="161.07" r="1.55"/>
<circle cx="38.46" cy="161.62" r="2.2"/>
<circle cx="38.27" cy="162.17" r="1.99"/>
<circle cx="38.08" cy="162.72" r="2.12"/>
<circle cx="37.9" cy="163.27" r="2.25"/>
<circle cx="37.72" cy="163.82" r="1.41"/>
<circle cx="37.54" cy="164.37" r="1.76"/>
<circle cx="37.36" cy="164.92" r="1.82"/>
<circle cx="37.19" cy="165.48" r="2.28"/>
<circle cx="37.01" cy="166.03" r="1.45"/>
<circle cx="36.85" cy="166.59" r="2.22"/>
<circle cx="36.68" cy="167.14" r="2.46"/>
<circle cx="36.52" cy="167.7" r="1.39"/>
<circle cx="36.36" cy="168.26" r="2.41"/>
<circle cx="36.2" cy="168.82" r="1.86"/>
<circle cx="54.8" cy="174.54" r="2.6"/>
<circle cx="35.93" cy="169.8" r="2.24"/>
<circle cx="35.81" cy="170.24" r="1.48"/>
<circle cx="35.69" cy="170.68" r="1.43"/>
<circle cx="35.58" cy="171.13" r="2.14"/>
<circle cx="35.47" cy="171.57" r="2.37"/>
<circle cx="35.35" cy="172.02" r="2.23"/>
<circle cx="35.24" cy="172.46" r="1.45"/>
<circle cx="35.14" cy="172.91" r="1.35"/>
<circle cx="35.03" cy="173.35" r="2.45"/>
<circle cx="53.3" cy="180.81" r="2.7"/>
<circle cx="34.62" cy="175.14" r="1.93"/>
<circle cx="34.5" cy="175.69" r="2.22"/>
<circle cx="34.39" cy="176.24" r="1.66"/>
<circle cx="34.27" cy="176.78" r="1.53"/>
<circle cx="34.16" cy="177.33" r="2.25"/>
<circle cx="34.05" cy="177.88" r="1.94"/>
<circle cx="33.95" cy="178.43" r="1.63"/>
<circle cx="33.84" cy="178.98" r="2.31"/>
<circle cx="33.74" cy="179.53" r="1.93"/>
<circle cx="33.27" cy="182.35" r="1.8"/>
<circle cx="32.95" cy="184.56" r="2"/>
<circle cx="32.33" cy="190.23" r="1.8"/>
<circle cx="32.14" cy="192.67" r="1.6"/>
<circle cx="51.44" cy="196.13" r="1.6"/>
<circle cx="32.03" cy="194.7" r="1.31"/>
<circle cx="31.97" cy="196.13" r="1.62"/>
<circle cx="51.48" cy="205.29" r="3.5"/>
<circle cx="31.93" cy="197.55" r="1.53"/>
<circle cx="31.92" cy="197.98" r="2.08"/>
<circle cx="31.91" cy="198.41" r="1.57"/>
<circle cx="31.91" cy="198.85" r="1.74"/>
<circle cx="31.9" cy="199.28" r="2.13"/>
<circle cx="31.9" cy="199.71" r="1.73"/>
<circle cx="31.9" cy="200.14" r="1.31"/>
<circle cx="31.9" cy="200.57" r="2.31"/>
<circle cx="31.9" cy="201" r="1.89"/>
<circle cx="31.91" cy="201.43" r="2.22"/>
<circle cx="31.91" cy="201.86" r="1.86"/>
<circle cx="31.92" cy="202.29" r="2.37"/>
<circle cx="31.93" cy="202.72" r="2.05"/>
<circle cx="31.94" cy="203.16" r="2.38"/>
<circle cx="31.95" cy="203.59" r="2.39"/>
<circle cx="31.96" cy="204.02" r="2.01"/>
<circle cx="31.98" cy="204.45" r="1.37"/>
<circle cx="31.99" cy="204.88" r="2.02"/>
<circle cx="32.01" cy="205.31" r="2.15"/>
<circle cx="32.03" cy="205.74" r="1.84"/>
<circle cx="32.05" cy="206.17" r="1.68"/>
<circle cx="32.08" cy="206.6" r="1.4"/>
<circle cx="32.1" cy="207.03" r="1.53"/>
<circle cx="32.13" cy="207.46" r="1.93"/>
<circle cx="32.15" cy="207.89" r="1.67"/>
<circle cx="32.18" cy="208.32" r="2.31"/>
<circle cx="32.21" cy="208.75" r="1.83"/>
<circle cx="32.25" cy="209.18" r="1.39"/>
<circle cx="32.28" cy="209.61" r="1.8"/>
<circle cx="32.32" cy="210.04" r="1.97"/>
<circle cx="32.35" cy="210.47" r="1.76"/>
<circle cx="32.39" cy="210.9" r="1.67"/>
<circle cx="32.43" cy="211.33" r="1.41"/>
<circle cx="32.47" cy="211.76" r="1.53"/>
<circle cx="32.52" cy="212.19" r="1.84"/>
<circle cx="32.56" cy="212.62" r="2.18"/>
<circle cx="32.61" cy="213.04" r="2.06"/>
<circle cx="32.66" cy="213.47" r="2.05"/>
<circle cx="32.71" cy="213.9" r="1.75"/>
<circle cx="32.76" cy="214.33" r="2.26"/>
<circle cx="32.81" cy="214.76" r="1.53"/>
<circle cx="32.87" cy="215.18" r="2.03"/>
<circle cx="32.92" cy="215.61" r="1.7"/>
<circle cx="32.98" cy="216.04" r="1.35"/>
<circle cx="52.77" cy="216.75" r="2.4"/>
<circle cx="33.21" cy="217.65" r="2.13"/>
<circle cx="33.3" cy="218.21" r="1.66"/>
<circle cx="33.39" cy="218.78" r="2.01"/>
<circle cx="33.48" cy="219.34" r="2.44"/>
<circle cx="33.58" cy="219.9" r="2.29"/>
<circle cx="33.67" cy="220.46" r="2.16"/>
<circle cx="33.77" cy="221.03" r="2.23"/>
<circle cx="33.88" cy="221.59" r="2.4"/>
<circle cx="33.98" cy="222.15" r="1.46"/>
<circle cx="34.09" cy="222.71" r="1.31"/>
<circle cx="34.2" cy="223.27" r="1.66"/>
<circle cx="54.58" cy="225.04" r="2.4"/>
<circle cx="34.71" cy="225.66" r="1.48"/>
<circle cx="34.81" cy="226.1" r="2.33"/>
<circle cx="34.91" cy="226.54" r="2.24"/>
<circle cx="35.01" cy="226.98" r="1.91"/>
<circle cx="35.12" cy="227.42" r="1.49"/>
<circle cx="35.23" cy="227.86" r="2.08"/>
<circle cx="35.33" cy="228.3" r="1.95"/>
<circle cx="35.44" cy="228.74" r="1.81"/>
<circle cx="35.56" cy="229.18" r="1.39"/>
<circle cx="35.67" cy="229.62" r="1.55"/>
<circle cx="35.78" cy="230.05" r="2.49"/>
<circle cx="35.9" cy="230.49" r="1.51"/>
<circle cx="36.02" cy="230.93" r="1.85"/>
<circle cx="36.14" cy="231.36" r="1.58"/>
<circle cx="36.26" cy="231.8" r="2.23"/>
<circle cx="36.38" cy="232.24" r="2.24"/>
<circle cx="36.51" cy="232.67" r="1.64"/>
<circle cx="36.64" cy="233.11" r="1.6"/>
<circle cx="36.76" cy="233.54" r="1.83"/>
<circle cx="75.45" cy="226.68" r="1.6"/>
<circle cx="56.93" cy="232.66" r="2"/>
<circle cx="38.46" cy="238.77" r="1.9"/>
<circle cx="97.27" cy="227.95" r="2.6"/>
<circle cx="79.4" cy="235.76" r="2.7"/>
<circle cx="61.72" cy="243.9" r="3.4"/>
<circle cx="40.78" cy="244.86" r="1.58"/>
<circle cx="41.02" cy="245.43" r="2.39"/>
<circle cx="41.26" cy="246" r="1.38"/>
<circle cx="41.51" cy="246.57" r="1.6"/>
<circle cx="41.75" cy="247.13" r="2.08"/>
<circle cx="42" cy="247.7" r="1.86"/>
<circle cx="42.26" cy="248.26" r="1.31"/>
<circle cx="42.51" cy="248.83" r="1.58"/>
<circle cx="42.77" cy="249.39" r="1.75"/>
<circle cx="43.04" cy="249.95" r="1.58"/>
<circle cx="43.3" cy="250.51" r="2.02"/>
<circle cx="43.57" cy="251.07" r="1.53"/>
<circle cx="43.84" cy="251.62" r="1.92"/>
<circle cx="44.11" cy="252.18" r="2.02"/>
<circle cx="44.39" cy="252.73" r="2.1"/>
<circle cx="44.67" cy="253.28" r="2.06"/>
<circle cx="44.95" cy="253.83" r="1.72"/>
<circle cx="45.24" cy="254.38" r="1.71"/>
<circle cx="45.53" cy="254.93" r="2.5"/>
<circle cx="45.82" cy="255.47" r="2.18"/>
<circle cx="46.11" cy="256.02" r="2.28"/>
<circle cx="46.41" cy="256.56" r="1.79"/>
<circle cx="46.71" cy="257.1" r="2.05"/>
<circle cx="47.01" cy="257.64" r="1.34"/>
<circle cx="47.32" cy="258.18" r="1.88"/>
<circle cx="47.63" cy="258.71" r="2.26"/>
<circle cx="47.94" cy="259.25" r="1.49"/>
<circle cx="48.26" cy="259.78" r="2.08"/>
<circle cx="117.53" cy="223.61" r="1.7"/>
<circle cx="101.88" cy="235.15" r="3.6"/>
<circle cx="86.14" cy="246.59" r="3.6"/>
<circle cx="69.23" cy="256.4" r="3.7"/>
<circle cx="51.85" cy="265.46" r="1.63"/>
<circle cx="52.24" cy="266.03" r="2.1"/>
<circle cx="52.63" cy="266.6" r="1.36"/>
<circle cx="53.02" cy="267.16" r="2.36"/>
<circle cx="53.42" cy="267.73" r="1.32"/>
<circle cx="53.82" cy="268.29" r="2.26"/>
<circle cx="54.22" cy="268.85" r="1.77"/>
<circle cx="54.63" cy="269.4" r="2.43"/>
<circle cx="55.04" cy="269.96" r="1.49"/>
<circle cx="55.46" cy="270.51" r="1.41"/>
<circle cx="55.87" cy="271.06" r="1.74"/>
<circle cx="56.29" cy="271.6" r="1.46"/>
<circle cx="56.72" cy="272.15" r="1.47"/>
<circle cx="57.14" cy="272.69" r="1.78"/>
<circle cx="119.69" cy="226.23" r="1.7"/>
<circle cx="104.97" cy="238.94" r="2.5"/>
<circle cx="90.42" cy="251.85" r="2.5"/>
<circle cx="75.88" cy="264.77" r="2"/>
<circle cx="61.33" cy="277.68" r="2.6"/>
<circle cx="121.33" cy="227.95" r="1.5"/>
<circle cx="148.6" cy="239.1" r="3.5"/>
<circle cx="109.18" cy="243.22" r="1.5"/>
<circle cx="93.4" cy="255.02" r="1.9"/>
<circle cx="79.12" cy="268.24" r="1.8"/>
<circle cx="64.65" cy="281.27" r="1.8"/>
<circle cx="96.54" cy="258.02" r="1.9"/>
<circle cx="83.02" cy="272.01" r="1.8"/>
<circle cx="69.01" cy="285.55" r="1.7"/>
<circle cx="121.84" cy="252.05" r="2.1"/>
<circle cx="99.64" cy="260.66" r="1.4"/>
<circle cx="86.61" cy="275.13" r="1.5"/>
<circle cx="73.28" cy="289.33" r="1.6"/>
<circle cx="102" cy="262.5" r="1.4"/>
<circle cx="90.07" cy="277.87" r="1.5"/>
<circle cx="77.72" cy="292.91" r="1.6"/>
<circle cx="111" cy="268.31" r="1.7"/>
<circle cx="93.8" cy="280.54" r="1.4"/>
<circle cx="82.17" cy="296.14" r="1.6"/>
<circle cx="97.07" cy="282.67" r="1.4"/>
<circle cx="86.41" cy="298.95" r="1.6"/>
<circle cx="100.27" cy="284.59" r="1.4"/>
<circle cx="90.6" cy="301.47" r="1.6"/>
<circle cx="103.54" cy="286.38" r="1.4"/>
<circle cx="94.53" cy="303.62" r="1.6"/>
<circle cx="96.35" cy="304.55" r="1.3"/>
<circle cx="116.34" cy="270.99" r="1.9"/>
<circle cx="106.89" cy="288.05" r="1.4"/>
<circle cx="98.91" cy="305.79" r="1.6"/>
<circle cx="120.59" cy="272.78" r="1.7"/>
<circle cx="110.29" cy="289.59" r="1.5"/>
<circle cx="103" cy="307.62" r="1.7"/>
<circle cx="113.75" cy="290.99" r="1.8"/>
<circle cx="107.16" cy="309.29" r="1.9"/>
<circle cx="123.4" cy="273.81" r="1.7"/>
<circle cx="117.58" cy="292.37" r="1.5"/>
<circle cx="111.38" cy="310.8" r="1.7"/>
<circle cx="141.99" cy="258.17" r="3.3"/>
<circle cx="135.36" cy="276.86" r="3.5"/>
<circle cx="124.41" cy="294.39" r="3.7"/>
<circle cx="117.61" cy="312.71" r="2.41"/>
<circle cx="118" cy="312.82" r="1.51"/>
<circle cx="118.4" cy="312.92" r="1.49"/>
<circle cx="118.79" cy="313.03" r="1.38"/>
<circle cx="119.18" cy="313.13" r="2.2"/>
<circle cx="119.58" cy="313.23" r="2.27"/>
<circle cx="119.97" cy="313.33" r="2.3"/>
<circle cx="120.37" cy="313.43" r="2.4"/>
<circle cx="120.76" cy="313.53" r="2.03"/>
<circle cx="121.16" cy="313.63" r="1.4"/>
<circle cx="121.56" cy="313.72" r="2.13"/>
<circle cx="121.95" cy="313.82" r="2.07"/>
<circle cx="122.35" cy="313.91" r="2.05"/>
<circle cx="122.75" cy="314" r="1.54"/>
<circle cx="130.04" cy="295.66" r="2.3"/>
<circle cx="125.13" cy="314.52" r="1.81"/>
<circle cx="126.2" cy="314.73" r="2.14"/>
<circle cx="127.27" cy="314.93" r="1.62"/>
<circle cx="128.34" cy="315.13" r="2.17"/>
<circle cx="134.73" cy="296.46" r="2.3"/>
<circle cx="130.34" cy="315.46" r="1.53"/>
<circle cx="130.78" cy="315.53" r="2.31"/>
<circle cx="131.21" cy="315.6" r="2.1"/>
<circle cx="131.65" cy="315.66" r="1.77"/>
<circle cx="132.08" cy="315.72" r="2.32"/>
<circle cx="132.51" cy="315.79" r="2.08"/>
<circle cx="132.95" cy="315.85" r="1.6"/>
<circle cx="133.38" cy="315.9" r="1.74"/>
<circle cx="133.82" cy="315.96" r="1.51"/>
<circle cx="134.25" cy="316.01" r="2.48"/>
<circle cx="134.69" cy="316.07" r="1.84"/>
<circle cx="135.12" cy="316.12" r="2.28"/>
<circle cx="135.56" cy="316.17" r="2.27"/>
<circle cx="136" cy="316.22" r="1.38"/>
<circle cx="145.61" cy="277.94" r="1.6"/>
<circle cx="144.87" cy="297.38" r="1.9"/>
<circle cx="142.29" cy="316.73" r="1.62"/>
<circle cx="144.73" cy="316.84" r="1.7"/>
<circle cx="151.15" cy="258.49" r="3.1"/>
<circle cx="151.99" cy="277.93" r="3.3"/>
<circle cx="152.33" cy="297.38" r="3.4"/>
<circle cx="150.23" cy="316.89" r="2.24"/>
<circle cx="152.27" cy="316.84" r="3.12"/>
<circle cx="154.3" cy="316.76" r="2.92"/>
<circle cx="156.22" cy="258.05" r="2.1"/>
<circle cx="158.08" cy="277.42" r="2.2"/>
<circle cx="157.58" cy="297.03" r="2.3"/>
<circle cx="158.97" cy="316.44" r="2.4"/>
<circle cx="160.62" cy="296.7" r="1.6"/>
<circle cx="162.42" cy="316.08" r="1.6"/>
<circle cx="161.44" cy="276.93" r="1.8"/>
<circle cx="165.49" cy="295.97" r="1.8"/>
<circle cx="167.46" cy="315.37" r="1.8"/>
<circle cx="170.87" cy="314.76" r="1.6"/>
<circle cx="174" cy="252.73" r="3.6"/>
<circle cx="168.47" cy="275.42" r="3"/>
<circle cx="169.48" cy="295.18" r="1.6"/>
<circle cx="173.46" cy="314.22" r="1.6"/>
<circle cx="174.75" cy="293.87" r="3.2"/>
<circle cx="176.44" cy="313.53" r="2.2"/>
<circle cx="176.99" cy="313.39" r="2.08"/>
<circle cx="177.54" cy="313.25" r="1.33"/>
<circle cx="178.1" cy="313.11" r="2.04"/>
<circle cx="178.65" cy="312.97" r="1.43"/>
<circle cx="179.2" cy="312.82" r="2.36"/>
<circle cx="179.75" cy="312.67" r="2.27"/>
<circle cx="180.3" cy="312.51" r="2.12"/>
<circle cx="180.85" cy="312.36" r="1.57"/>
<circle cx="181.39" cy="312.2" r="2.03"/>
<circle cx="181.94" cy="312.04" r="1.69"/>
<circle cx="172.9" cy="274.11" r="1.7"/>
<circle cx="178.65" cy="292.69" r="1.7"/>
<circle cx="184.66" cy="311.19" r="1.8"/>
<circle cx="181.73" cy="270.6" r="3.7"/>
<circle cx="189.7" cy="288.34" r="4"/>
<circle cx="189.09" cy="309.65" r="2.39"/>
<circle cx="189.58" cy="309.47" r="1.6"/>
<circle cx="190.06" cy="309.29" r="1.88"/>
<circle cx="190.55" cy="309.1" r="2.04"/>
<circle cx="191.04" cy="308.91" r="1.75"/>
<circle cx="191.52" cy="308.72" r="1.78"/>
<circle cx="192.01" cy="308.53" r="1.63"/>
<circle cx="192.49" cy="308.33" r="1.75"/>
<circle cx="192.97" cy="308.14" r="1.62"/>
<circle cx="193.45" cy="307.94" r="1.36"/>
<circle cx="193.93" cy="307.73" r="2.46"/>
<circle cx="194.41" cy="307.53" r="1.93"/>
<circle cx="194.89" cy="307.33" r="2.38"/>
<circle cx="195.37" cy="307.12" r="1.94"/>
<circle cx="195.85" cy="306.91" r="2.19"/>
<circle cx="196.32" cy="306.7" r="1.75"/>
<circle cx="196.8" cy="306.48" r="1.48"/>
<circle cx="197.27" cy="306.27" r="1.4"/>
<circle cx="197.75" cy="306.05" r="2.04"/>
<circle cx="198.22" cy="305.83" r="1.66"/>
<circle cx="198.69" cy="305.6" r="1.67"/>
<circle cx="199.16" cy="305.38" r="2.34"/>
<circle cx="199.63" cy="305.15" r="2.37"/>
<circle cx="200.1" cy="304.92" r="2.2"/>
<circle cx="200.56" cy="304.69" r="1.65"/>
<circle cx="201.03" cy="304.46" r="1.8"/>
<circle cx="201.5" cy="304.22" r="1.36"/>
<circle cx="201.96" cy="303.99" r="2.04"/>
<circle cx="202.42" cy="303.75" r="1.37"/>
<circle cx="202.88" cy="303.51" r="1.66"/>
<circle cx="203.35" cy="303.26" r="1.94"/>
<circle cx="203.8" cy="303.02" r="1.66"/>
<circle cx="204.26" cy="302.77" r="1.74"/>
<circle cx="204.72" cy="302.52" r="1.49"/>
<circle cx="205.18" cy="302.27" r="2.26"/>
<circle cx="190.97" cy="265.45" r="2.5"/>
<circle cx="200.71" cy="282.31" r="3"/>
<circle cx="209.05" cy="300.02" r="1.81"/>
<circle cx="209.8" cy="299.57" r="1.53"/>
<circle cx="210.54" cy="299.11" r="1.64"/>
<circle cx="211.28" cy="298.64" r="2.27"/>
<circle cx="212.01" cy="298.17" r="2.14"/>
<circle cx="212.74" cy="297.69" r="1.94"/>
<circle cx="213.47" cy="297.21" r="1.94"/>
<circle cx="214.2" cy="296.72" r="1.84"/>
<circle cx="196.82" cy="261.26" r="2.1"/>
<circle cx="208.47" cy="276.83" r="1.5"/>
<circle cx="210.06" cy="275.56" r="2.5"/>
<circle cx="217.69" cy="294.25" r="1.4"/>
<circle cx="218.53" cy="293.63" r="1.42"/>
<circle cx="219.37" cy="293" r="1.53"/>
<circle cx="220.2" cy="292.36" r="1.48"/>
<circle cx="221.02" cy="291.71" r="1.93"/>
<circle cx="221.84" cy="291.06" r="1.73"/>
<circle cx="222.65" cy="290.4" r="1.91"/>
<circle cx="223.46" cy="289.73" r="1.73"/>
<circle cx="176.58" cy="227.22" r="2.5"/>
<circle cx="192.23" cy="238.94" r="3.3"/>
<circle cx="206.87" cy="251.75" r="3.3"/>
<circle cx="221.21" cy="264.89" r="3.3"/>
<circle cx="235.46" cy="278.14" r="3.5"/>
<circle cx="190.43" cy="240.88" r="1.5"/>
<circle cx="204.56" cy="254.24" r="1.6"/>
<circle cx="218.32" cy="268" r="1.8"/>
<circle cx="231.55" cy="282.29" r="1.8"/>
<circle cx="202.84" cy="255.98" r="1.5"/>
<circle cx="215.17" cy="271.09" r="1.8"/>
<circle cx="228.04" cy="285.69" r="1.8"/>
<circle cx="180.19" cy="222.9" r="2.7"/>
<circle cx="196.22" cy="233.92" r="3.1"/>
<circle cx="211.78" cy="245.6" r="3.1"/>
<circle cx="228.55" cy="255.56" r="3.3"/>
<circle cx="242.29" cy="269.78" r="1.91"/>
<circle cx="242.64" cy="269.3" r="2.05"/>
<circle cx="242.99" cy="268.82" r="2.17"/>
<circle cx="243.34" cy="268.34" r="1.95"/>
<circle cx="243.68" cy="267.86" r="1.82"/>
<circle cx="244.02" cy="267.38" r="1.4"/>
<circle cx="244.36" cy="266.89" r="1.51"/>
<circle cx="244.7" cy="266.41" r="1.61"/>
<circle cx="245.04" cy="265.92" r="1.45"/>
<circle cx="245.37" cy="265.43" r="2.41"/>
<circle cx="245.7" cy="264.93" r="1.62"/>
<circle cx="246.03" cy="264.44" r="2.06"/>
<circle cx="225.34" cy="259.94" r="3"/>
<circle cx="239.8" cy="273.01" r="2.2"/>
<circle cx="185.74" cy="211.77" r="2.1"/>
<circle cx="205.29" cy="214.02" r="2"/>
<circle cx="224.19" cy="218.63" r="2.2"/>
<circle cx="243.08" cy="223.23" r="3.2"/>
<circle cx="261.98" cy="227.84" r="3.3"/>
<circle cx="204.4" cy="217.26" r="1.5"/>
<circle cx="223" cy="222.95" r="1.6"/>
<circle cx="241.6" cy="228.63" r="1.7"/>
<circle cx="260.2" cy="234.32" r="1.7"/>
<circle cx="202.15" cy="223.37" r="2.3"/>
<circle cx="221.47" cy="227.45" r="2.1"/>
<circle cx="239.69" cy="234.26" r="1.8"/>
<circle cx="257.91" cy="241.07" r="1.8"/>
<circle cx="220.11" cy="230.85" r="1.7"/>
<circle cx="238.25" cy="237.89" r="1.6"/>
<circle cx="256.34" cy="245.05" r="1.7"/>
<circle cx="237.3" cy="240.07" r="1.5"/>
<circle cx="254.88" cy="248.41" r="1.6"/>
<circle cx="216.97" cy="237.32" r="2.2"/>
<circle cx="235.86" cy="243.14" r="1.6"/>
<circle cx="253.31" cy="251.72" r="1.7"/>
<circle cx="234.23" cy="246.31" r="2.3"/>
<circle cx="251.45" cy="255.35" r="3"/>
<circle cx="197.81" cy="231.55" r="1.6"/>
<circle cx="214.94" cy="240.85" r="1.7"/>
<circle cx="231.78" cy="250.58" r="1.7"/>
<circle cx="248.63" cy="260.3" r="1.8"/>
<circle cx="168" cy="198.84" r="2.7"/>
<circle cx="186.79" cy="192.78" r="1.4"/>
<circle cx="205.88" cy="189.07" r="1.3"/>
<circle cx="224.97" cy="185.36" r="1.3"/>
<circle cx="244.06" cy="181.64" r="1.4"/>
<circle cx="263.16" cy="177.93" r="1.4"/>
<circle cx="187.16" cy="195.06" r="1.6"/>
<circle cx="206.44" cy="192.48" r="1.5"/>
<circle cx="225.72" cy="189.91" r="1.5"/>
<circle cx="245" cy="187.34" r="1.6"/>
<circle cx="264.27" cy="184.77" r="1.6"/>
<circle cx="187.36" cy="196.94" r="2"/>
<circle cx="206.75" cy="195.32" r="1.8"/>
<circle cx="226.13" cy="193.69" r="2.3"/>
<circle cx="245.51" cy="192.06" r="2.3"/>
<circle cx="264.99" cy="191.65" r="2.2"/>
<circle cx="264.78" cy="189.22" r="1.9"/>
<circle cx="265.07" cy="192.87" r="1.3"/>
<circle cx="264.89" cy="190.43" r="1.3"/>
<circle cx="187.5" cy="200.2" r="3.3"/>
<circle cx="206.95" cy="200.2" r="3.3"/>
<circle cx="226.4" cy="200.2" r="3.4"/>
<circle cx="245.85" cy="200.2" r="3.5"/>
<circle cx="265.3" cy="200.2" r="3.6"/>
<circle cx="168.01" cy="201.39" r="2.7"/>
<circle cx="187.41" cy="202.91" r="2"/>
<circle cx="206.81" cy="204.27" r="1.6"/>
<circle cx="226.21" cy="205.63" r="1.5"/>
<circle cx="245.61" cy="206.98" r="1.5"/>
<circle cx="265.02" cy="208.34" r="1.6"/>
<circle cx="187.19" cy="205.08" r="3"/>
<circle cx="206.49" cy="207.51" r="3.3"/>
<circle cx="225.79" cy="209.95" r="3.3"/>
<circle cx="245.08" cy="212.39" r="3.6"/>
<circle cx="264.38" cy="214.83" r="3.7"/>
<circle cx="186.89" cy="207.09" r="1.5"/>
<circle cx="206.03" cy="210.53" r="1.6"/>
<circle cx="225.17" cy="213.98" r="1.5"/>
<circle cx="244.31" cy="217.42" r="1.6"/>
<circle cx="263.46" cy="220.87" r="1.8"/>
</g>
<circle cx="148.9" cy="200.3" r="0.9" fill="#c3c300"/>
<path d="M139.28 103.4L135.9 84.19" stroke="#e00000" stroke-width="2.2" fill="none"/>
<path d="M52.05 188.52L32.6 187.39" stroke="#e00000" stroke-width="2.2" fill="none"/>
<g fill="#ff0000" stroke="#7a0000" stroke-width="0.5">
<circle cx="138.58" cy="123.05" r="2.3"/>
<circle cx="139.28" cy="103.4" r="2.6"/>
<circle cx="135.9" cy="84.19" r="2.4"/>
<circle cx="52.05" cy="188.52" r="2.9"/>
<circle cx="32.6" cy="187.39" r="2.9"/>
</g>
<g font-family="'DejaVu Sans', 'Liberation Sans', sans-serif" fill="#000">
<text x="131.85" y="53.15" font-size="6.6" text-anchor="middle" transform="rotate(-6 131.85 53.15)" dy="2.0">c</text>
<text x="135.79" y="64.7" font-size="6.6" text-anchor="middle" transform="rotate(-5 135.79 64.7)" dy="2.0">b</text>
<text x="135.24" y="77.22" font-size="6.6" text-anchor="middle" transform="rotate(-5 135.24 77.22)" dy="2.0">a</text>
<text x="13.73" y="184.36" font-size="6.6" text-anchor="middle" transform="rotate(96 13.73 184.36)" dy="2.0">e</text>
<text x="26.37" y="186.49" font-size="6.6" text-anchor="middle" transform="rotate(96 26.37 186.49)" dy="2.0">d</text>
</g>
<text x="169.8" y="15.6" text-anchor="middle" font-family="'Liberation Serif', 'DejaVu Serif', serif" font-weight="bold" font-size="20.3">Pre vs. Post24</text>
<rect x="24.5" y="8.5" width="34" height="27" fill="#fff" stroke="#2a2a2a" stroke-width="0.85"/>
<text x="45.7" y="28.0" text-anchor="middle" font-family="'Liberation Serif', 'DejaVu Serif', serif" font-weight="bold" font-size="16.4">A</text>
<rect x="319.5" y="155.5" width="34" height="27" fill="#fff" stroke="#2a2a2a" stroke-width="0.85"/>
<text x="340.6" y="175.1" text-anchor="middle" font-family="'Liberation Serif', 'DejaVu Serif', serif" font-weight="bold" font-size="16.4">B</text>
<rect x="2.5" y="54.3" width="17.3" height="6.0" fill="#ff0000" stroke="#000" stroke-width="1"/>
<text x="28.0" y="60.7" font-family="'DejaVu Sans', 'Liberation Sans', sans-serif" font-size="8.9">3_Post24</text>
<rect x="251.6" y="49.3" width="17.3" height="5.8" fill="#ff0000" stroke="#000" stroke-width="1"/>
<text x="276" y="55.2" font-family="'DejaVu Sans', 'Liberation Sans', sans-serif" font-size="8.62">a: g__Bacillus</text>
<rect x="251.6" y="62.88" width="17.3" height="5.8" fill="#ff0000" stroke="#000" stroke-width="1"/>
<text x="276" y="68.78" font-family="'DejaVu Sans', 'Liberation Sans', sans-serif" font-size="8.62">b: f__Bacillaceae</text>
<rect x="251.6" y="76.46" width="17.3" height="5.8" fill="#ff0000" stroke="#000" stroke-width="1"/>
<text x="276" y="82.36" font-family="'DejaVu Sans', 'Liberation Sans', sans-serif" font-size="8.62">c: o__Bacillales</text>
<rect x="251.6" y="90.04" width="17.3" height="5.8" fill="#ff0000" stroke="#000" stroke-width="1"/>
<text x="276" y="95.94" font-family="'DejaVu Sans', 'Liberation Sans', sans-serif" font-size="8.62">d: g__Faecalibacterium</text>
<rect x="251.6" y="103.62" width="17.3" height="5.8" fill="#ff0000" stroke="#000" stroke-width="1"/>
<text x="276" y="109.52" font-family="'DejaVu Sans', 'Liberation Sans', sans-serif" font-size="8.62">e: f__Ruminococcaceae</text>
<rect x="359.4" y="189.2" width="17.2" height="6" fill="#ff0000" stroke="#000" stroke-width="1"/>
<text x="383.8" y="195.6" font-family="'DejaVu Sans', 'Liberation Sans', sans-serif" font-size="8.8">3_Post24</text>
<g stroke="#000" stroke-width="0.7" fill="#ff0000">
<rect x="356.1" y="207.45" width="284.08" height="7.5"/>
<rect x="356.1" y="216.72" width="278.45" height="7.5"/>
<rect x="356.1" y="225.99" width="278.45" height="7.5"/>
<rect x="356.1" y="235.26" width="231.67" height="7.5"/>
<rect x="356.1" y="244.53" width="231.67" height="7.5"/>
<rect x="356.1" y="253.8" width="186.11" height="7.5"/>
<rect x="356.1" y="263.07" width="179.4" height="7.5"/>
</g>
<g stroke="#000" fill="none">
<path d="M356.1 202.8v3.3M356.1 275.7v-3.5" stroke-width="0.55" stroke="#444"/>
<path d="M390 202.8V275.7" stroke-width="0.6" stroke-dasharray="0.9 2.4" stroke-opacity="0.75"/>
<path d="M390 202.8v3.3M390 275.7v-3.5" stroke-width="0.55" stroke="#444"/>
<path d="M423.9 202.8V275.7" stroke-width="0.6" stroke-dasharray="0.9 2.4" stroke-opacity="0.75"/>
<path d="M423.9 202.8v3.3M423.9 275.7v-3.5" stroke-width="0.55" stroke="#444"/>
<path d="M457.8 202.8V275.7" stroke-width="0.6" stroke-dasharray="0.9 2.4" stroke-opacity="0.75"/>
<path d="M457.8 202.8v3.3M457.8 275.7v-3.5" stroke-width="0.55" stroke="#444"/>
<path d="M491.7 202.8V275.7" stroke-width="0.6" stroke-dasharray="0.9 2.4" stroke-opacity="0.75"/>
<path d="M491.7 202.8v3.3M491.7 275.7v-3.5" stroke-width="0.55" stroke="#444"/>
<path d="M525.6 202.8V275.7" stroke-width="0.6" stroke-dasharray="0.9 2.4" stroke-opacity="0.75"/>
<path d="M525.6 202.8v3.3M525.6 275.7v-3.5" stroke-width="0.55" stroke="#444"/>
<path d="M559.5 202.8V275.7" stroke-width="0.6" stroke-dasharray="0.9 2.4" stroke-opacity="0.75"/>
<path d="M559.5 202.8v3.3M559.5 275.7v-3.5" stroke-width="0.55" stroke="#444"/>
<path d="M593.4 202.8V275.7" stroke-width="0.6" stroke-dasharray="0.9 2.4" stroke-opacity="0.75"/>
<path d="M593.4 202.8v3.3M593.4 275.7v-3.5" stroke-width="0.55" stroke="#444"/>
<path d="M627.3 202.8V275.7" stroke-width="0.6" stroke-dasharray="0.9 2.4" stroke-opacity="0.75"/>
<path d="M627.3 202.8v3.3M627.3 275.7v-3.5" stroke-width="0.55" stroke="#444"/>
<path d="M661.2 202.8v3.3M661.2 275.7v-3.5" stroke-width="0.55" stroke="#444"/>
</g>
<g font-family="'DejaVu Sans', 'Liberation Sans', sans-serif" font-size="10" text-anchor="middle" fill="#000">
<text x="356.1" y="288.2">0.0</text>
<text x="390" y="288.2">0.5</text>
<text x="423.9" y="288.2">1.0</text>
<text x="457.8" y="288.2">1.5</text>
<text x="491.7" y="288.2">2.0</text>
<text x="525.6" y="288.2">2.5</text>
<text x="559.5" y="288.2">3.0</text>
<text x="593.4" y="288.2">3.5</text>
<text x="627.3" y="288.2">4.0</text>
<text x="661.2" y="288.2">4.5</text>
<text x="508" y="302.2" font-size="10.3">LDA SCORE (log 10)</text>
</g>
<g font-family="'DejaVu Sans', 'Liberation Sans', sans-serif" font-size="6.1" text-anchor="end" fill="#000">
<text x="348.6" y="214.25">f__Ruminococcaceae</text>
<text x="348.6" y="223.52">s__prausnitzii</text>
<text x="348.6" y="232.79">g__Faecalibacterium</text>
<text x="348.6" y="242.06">s__</text>
<text x="348.6" y="251.33">g__Bacillus</text>
<text x="348.6" y="260.6">f__Bacillaceae</text>
<text x="348.6" y="269.87">o__Bacillales</text>
</g>
</svg></body></html>
